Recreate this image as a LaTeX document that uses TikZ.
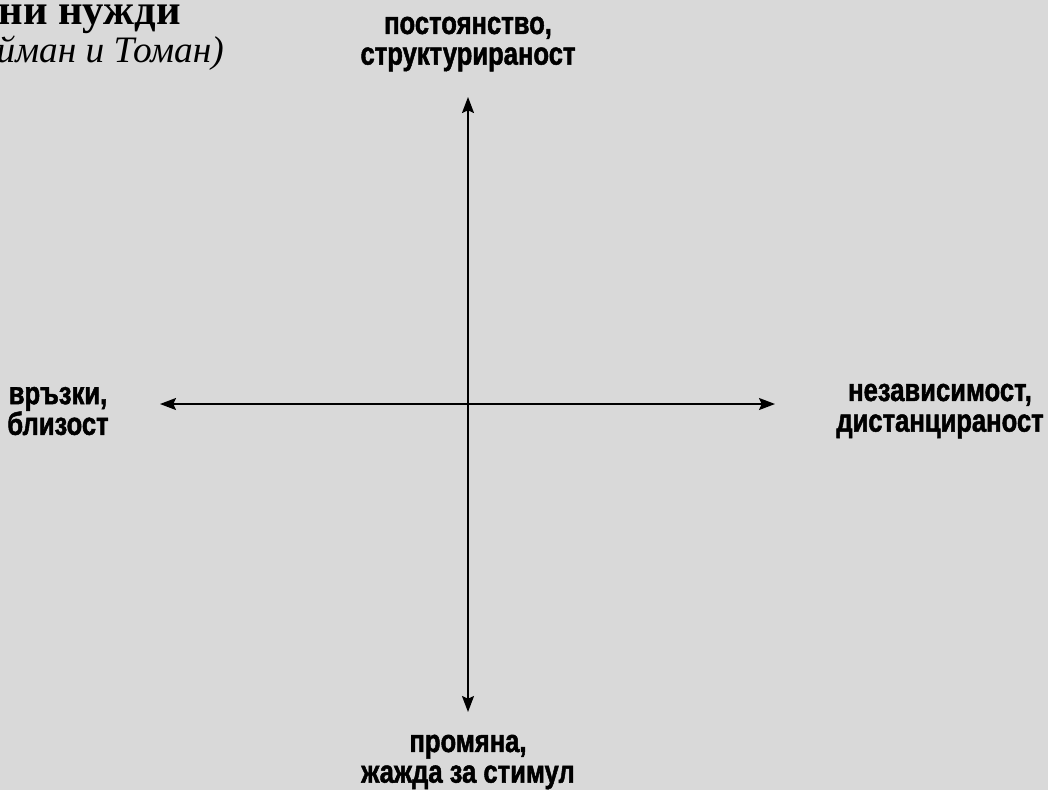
\documentclass[tikz,border=0pt]{standalone}
\usepackage{fontspec}
\setmainfont{Liberation Serif}
\newfontfamily\polefont[FakeStretch=0.8, BoldFeatures={FakeBold=1.5}]{Liberation Sans}
\usetikzlibrary{arrows.meta}
\usetikzlibrary{positioning}
\definecolor{bggray}{HTML}{D9D9D9}

\begin{document}
\begin{tikzpicture}[
  x=0.75pt, y=-0.75pt,
  pole/.style={align=center, inner sep=0pt, font={\polefont\bfseries\fontsize{24}{23}\selectfont}},
  heading/.style={inner sep=0pt, font={\bfseries\fontsize{32}{34}\selectfont}},
  source/.style={inner sep=0pt, font={\itshape\fontsize{28}{30}\selectfont}},
  axis/.style={line width=1.2pt, {Stealth[length=12pt,width=9pt,inset=2pt]}-{Stealth[length=12pt,width=9pt,inset=2pt]}}
]
\useasboundingbox (0,0) rectangle (1048,790);
\clip (0,0) rectangle (1048,790);
\fill[bggray] (0,0) rectangle (1048,790);

% title, cut at the left edge
\node[heading, anchor=base east] (title) at (181,24) {Основни нужди};
\node[source, anchor=base east] (authors) at (224,62) {(Рийман и Томан)};

% the four poles
\node[pole] (duration) at (468,44) {постоянство,\\структурираност};
\node[pole] (change) at (468,762) {промяна,\\жажда за стимул};
\node[pole] (nearness) at (58,411) {връзки,\\близост};
\node[pole] (distance) at (940,411) {независимост,\\дистанцираност};

% axis ends
\coordinate (north) at (468,97);
\coordinate (south) at (468,712);
\coordinate (west) at (160,404);
\coordinate (east) at (775,404);

\draw[axis] (north) -- (south);
\draw[axis] (west) -- (east);
\end{tikzpicture}
\end{document}
